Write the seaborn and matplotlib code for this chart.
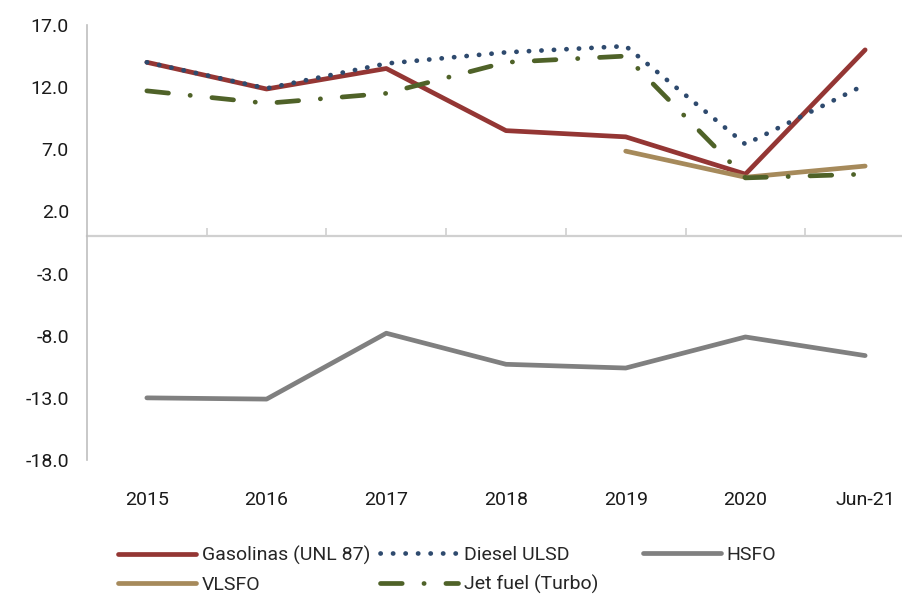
import matplotlib
matplotlib.use("Agg")

import matplotlib.pyplot as plt
import numpy as np
import pandas as pd
import seaborn as sns


CATEGORIES = ["2015", "2016", "2017", "2018", "2019", "2020", "Jun-21"]

GASOLINAS = [14.0, 11.85, 13.5, 8.5, 8.0, 5.0, 15.0]
DIESEL = [14.0, 11.9, 13.9, 14.8, 15.3, 7.4, 12.2]
HSFO = [-13.0, -13.1, -7.8, -10.3, -10.6, -8.1, -9.6]
VLSFO = [np.nan, np.nan, np.nan, np.nan, 6.85, 4.75, 5.65]
JET = [11.7, 10.7, 11.5, 14.0, 14.5, 4.7, 5.0]

SERIES_NAMES = ["Gasolinas (UNL 87)", "Diesel ULSD", "HSFO", "VLSFO", "Jet fuel (Turbo)"]
Y_TICKS = [-18.0, -13.0, -8.0, -3.0, 2.0, 7.0, 12.0, 17.0]

COLORS = {
    "Gasolinas (UNL 87)": "#943634",
    "Diesel ULSD": "#2E4A6E",
    "HSFO": "#808080",
    "VLSFO": "#A68A5B",
    "Jet fuel (Turbo)": "#4F6228",
}
DASHES = {
    "Gasolinas (UNL 87)": "",
    "Diesel ULSD": (0.05, 2.6),
    "HSFO": "",
    "VLSFO": "",
    "Jet fuel (Turbo)": (4.6, 4.6, 0.05, 4.6),
}


def build_frame():
    rows = []
    for name, values in zip(SERIES_NAMES, [GASOLINAS, DIESEL, HSFO, VLSFO, JET]):
        for i, v in enumerate(values):
            rows.append({"x": i, "value": v, "series": name})
    return pd.DataFrame(rows).dropna()


def main():
    sns.set_style("white")
    plt.rcParams["font.family"] = ["Roboto", "DejaVu Sans"]

    df = build_frame()

    fig = plt.figure(figsize=(9.03, 6.0), dpi=100)
    ax = fig.add_axes([87 / 903, 1 - 460 / 600, 838 / 903, 435 / 600])

    sns.lineplot(
        data=df,
        x="x",
        y="value",
        hue="series",
        style="series",
        hue_order=SERIES_NAMES,
        style_order=SERIES_NAMES,
        palette=COLORS,
        dashes=DASHES,
        linewidth=3.4,
        dash_capstyle="round",
        solid_capstyle="round",
        ax=ax,
    )

    handles, labels = ax.get_legend_handles_labels()
    ax.get_legend().remove()
    lookup = dict(zip(labels, handles))

    ax.set_xlim(-0.5, 6.5)
    ax.set_ylim(-18, 17)
    ax.set_yticks(Y_TICKS)
    ax.set_yticklabels([f"{t:.1f}" for t in Y_TICKS])
    ax.set_xticks(range(len(CATEGORIES)))
    ax.set_xticklabels(CATEGORIES)
    ax.set_xlabel("")
    ax.set_ylabel("")

    for side in ["top", "right", "bottom"]:
        ax.spines[side].set_visible(False)
    ax.spines["left"].set_color("#BFBFBF")
    ax.spines["left"].set_linewidth(1.2)

    ax.tick_params(axis="y", direction="out", length=5, color="#BFBFBF",
                   labelsize=14, labelcolor="#1a1a1a", pad=8)
    ax.tick_params(axis="x", length=0, labelsize=14, labelcolor="#1a1a1a", pad=22)

    # category axis drawn at zero
    zero = ax.secondary_xaxis(18 / 35)
    zero.set_xticks(np.arange(0.5, len(CATEGORIES) - 0.5, 1.0))
    zero.set_xticklabels([])
    zero.tick_params(direction="out", length=6, color="#D0D0D0", width=1.2)
    for sp in zero.spines.values():
        sp.set_color("#D0D0D0")
        sp.set_linewidth(1.6)

    columns = [
        (["Gasolinas (UNL 87)", "VLSFO"], 118),
        (["Diesel ULSD", "Jet fuel (Turbo)"], 380),
        (["HSFO"], 643),
    ]
    for names, x0 in columns:
        leg = fig.legend(
            [lookup[n] for n in names],
            names,
            loc="upper left",
            bbox_to_anchor=(x0 / 903, 1 - 546 / 600),
            frameon=False,
            fontsize=14,
            handlelength=4.0,
            handletextpad=0.3,
            labelspacing=0.55,
            borderaxespad=0,
            borderpad=0,
        )
        for line in leg.get_lines():
            line.set_linewidth(3.4)

    fig.savefig("out.png", dpi=100)
    plt.close(fig)


if __name__ == "__main__":
    main()
